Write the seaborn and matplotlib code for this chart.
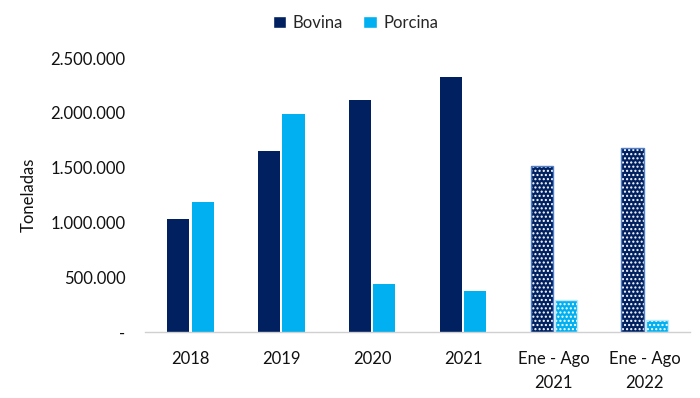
import pandas as pd
import seaborn as sns
import matplotlib.pyplot as plt
from matplotlib.ticker import FuncFormatter
from matplotlib.patches import Patch

sns.set_theme(style="white")
plt.rcParams['font.family'] = ['Lato', 'DejaVu Sans']

categorias = ["2018", "2019", "2020", "2021", "Ene - Ago\n2021", "Ene - Ago\n2022"]
bovina = [1031000, 1652000, 2113000, 2327000, 1515000, 1680000]
porcina = [1188000, 1990000, 436000, 370000, 288000, 106000]
series = ["Bovina", "Porcina"]
colores = ["#002060", "#00B0F0"]

df = pd.DataFrame({
    "Periodo": categorias * 2,
    "Toneladas": bovina + porcina,
    "Serie": ["Bovina"] * len(categorias) + ["Porcina"] * len(categorias),
})

fig = plt.figure(figsize=(7, 3.98), dpi=100)
ax = fig.add_axes([0.207, 0.166, 0.779, 0.688])

sns.barplot(data=df, x="Periodo", y="Toneladas", hue="Serie",
            palette=colores, saturation=1, width=0.54, gap=0.1,
            legend=False, ax=ax, linewidth=0)

# barras parciales (ene-ago) con trama de puntos
for cont, borde in zip(ax.containers, ["#4f7fc8", "#bfe9fb"]):
    for bar in list(cont)[4:]:
        bar.set_hatch("....")
        bar.set_edgecolor("white")
        bar.set_linewidth(0)
    for bar in list(cont)[4:]:
        x, w, h = bar.get_x(), bar.get_width(), bar.get_height()
        ax.bar(x + w / 2, h, width=w, fill=False, edgecolor=borde,
               linewidth=1.0, zorder=3)

ax.set_ylim(0, 2500000)
ax.set_xlim(-0.5, len(categorias) - 0.5)
ax.set_yticks([0, 500000, 1000000, 1500000, 2000000, 2500000])
ax.yaxis.set_major_formatter(FuncFormatter(
    lambda v, p: "-" if v == 0 else f"{int(v):,}".replace(",", ".")))
ax.tick_params(axis="both", length=0, labelsize=12, colors="#111111")
ax.tick_params(axis="y", pad=14)
ax.tick_params(axis="x", pad=14)
for t in ax.get_xticklabels():
    t.set_linespacing(1.55)
ax.set_xlabel("")
ax.set_ylabel("Toneladas", fontsize=12, color="#111111", labelpad=10)

for s in ["top", "right", "left"]:
    ax.spines[s].set_visible(False)
ax.spines["bottom"].set_color("#d0d0d0")
ax.spines["bottom"].set_linewidth(1)

handles = [Patch(facecolor=c, label=s) for s, c in zip(series, colores)]
fig.legend(handles=handles, loc="center", bbox_to_anchor=(0.508, 0.943),
           ncol=2, frameon=False, fontsize=12, handlelength=0.8,
           handleheight=0.8, handletextpad=0.4, columnspacing=1.2)

plt.savefig("out.png", dpi=100)
